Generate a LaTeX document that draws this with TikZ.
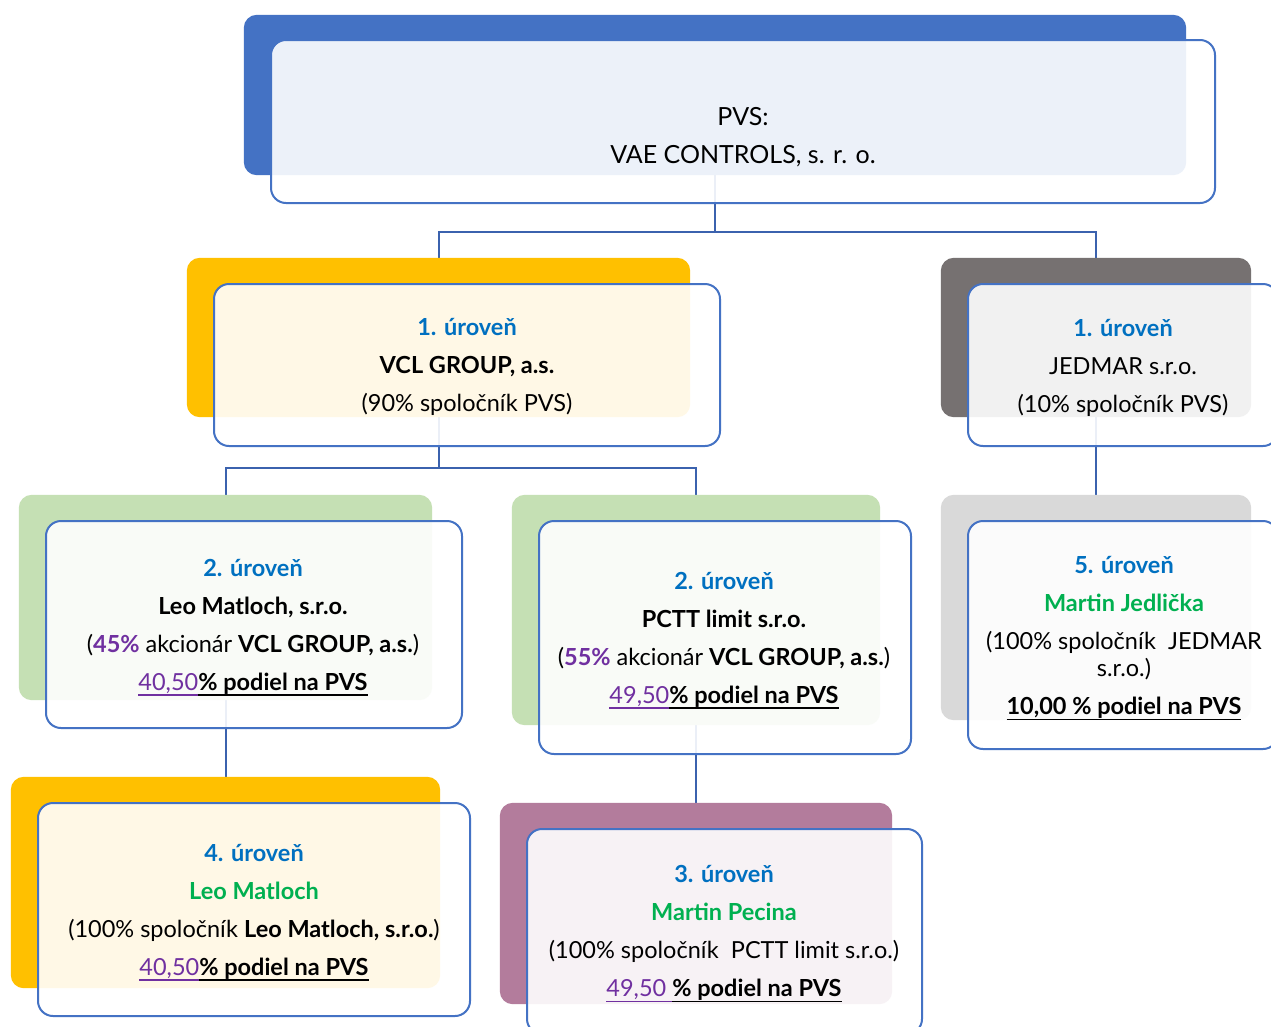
\documentclass[tikz,border=0pt]{standalone}
\usepackage{fontspec}
\setmainfont{Lato}
\definecolor{cblue}{HTML}{4472C4}
\definecolor{cyellow}{HTML}{FFC000}
\definecolor{cdgray}{HTML}{767171}
\definecolor{clgreen}{HTML}{C5E0B4}
\definecolor{clgray}{HTML}{D9D9D9}
\definecolor{cmauve}{HTML}{B37C9C}
\definecolor{cborder}{HTML}{4472C4}
\definecolor{cconn}{HTML}{3B62AE}
\definecolor{clevel}{HTML}{0070C0}
\definecolor{cgreen}{HTML}{00B050}
\definecolor{cpurp}{HTML}{7030A0}
\newsavebox{\myulbox}
\newcommand{\myul}[1]{\leavevmode\sbox{\myulbox}{#1}\rlap{\rule[-5.5pt]{\wd\myulbox}{1.5pt}}\usebox{\myulbox}}
\newcommand{\lvltxt}[1]{\textcolor{clevel}{\bfseries #1}}
\newcommand{\grntxt}[1]{\textcolor{cgreen}{\bfseries #1}}
\newcommand{\purtxt}[1]{\textcolor{cpurp}{\bfseries #1}}
\newcommand{\podiel}[2]{\textcolor{cpurp}{\myul{#1}}{\bfseries\myul{#2}}}
\begin{document}
\begin{tikzpicture}[x=1pt,y=-1pt,
  back/.style={rectangle, rounded corners=13pt, draw=none, inner sep=0pt},
  front/.style={rectangle, rounded corners=15pt, draw=cborder, line width=2pt, fill=white, fill opacity=0.9, draw opacity=1, inner sep=0pt},
  conn/.style={draw=cconn, line width=2pt},
  txt/.style={align=center, font=\fontsize{23.5}{38}\selectfont, inner sep=0pt, text=black}]
\useasboundingbox[fill=white] (0,0) rectangle (1271,1026);

% back boxes (as named nodes)
\path
  node[back, minimum width=942, minimum height=160] (topB) at (715,95) {}
  node[back, minimum width=503, minimum height=159] (vclB) at (438.5,337.5) {}
  node[back, minimum width=310, minimum height=159] (jedB) at (1096,337.5) {}
  node[back, minimum width=413, minimum height=205] (l2aB) at (225.5,597.5) {}
  node[back, minimum width=368, minimum height=230] (l2bB) at (696,610) {}
  node[back, minimum width=310, minimum height=225] (l5B) at (1096,607.5) {}
  node[back, minimum width=429, minimum height=211] (l4B) at (225.5,882.5) {}
  node[back, minimum width=392, minimum height=201] (l3B) at (696,903.5) {};

% connectors
\draw[conn] (topB.south) -- ++(0,57) -| (vclB.north);
\draw[conn] (topB.south) -- ++(0,57) -| (jedB.north);
\draw[conn] (vclB.south) -- ++(0,51) -| (l2aB.north);
\draw[conn] (vclB.south) -- ++(0,51) -| (l2bB.north);
\draw[conn] (jedB.south) -- (l5B.north);
\draw[conn] (l2aB.south) -- (l4B.north);
\draw[conn] (l2bB.south) -- (l3B.north);

% back fills
\fill[cblue, rounded corners=13pt] (topB.south west) rectangle (topB.north east);
\fill[cyellow, rounded corners=13pt] (vclB.south west) rectangle (vclB.north east);
\fill[cdgray, rounded corners=13pt] (jedB.south west) rectangle (jedB.north east);
\fill[clgreen, rounded corners=13pt] (l2aB.south west) rectangle (l2aB.north east);
\fill[clgreen, rounded corners=13pt] (l2bB.south west) rectangle (l2bB.north east);
\fill[clgray, rounded corners=13pt] (l5B.south west) rectangle (l5B.north east);
\fill[cyellow, rounded corners=13pt] (l4B.south west) rectangle (l4B.north east);
\fill[cmauve, rounded corners=13pt] (l3B.south west) rectangle (l3B.north east);

% front boxes
\node[front, minimum width=944, minimum height=163] (topF) at (743,121.5) {};
\node[front, minimum width=506, minimum height=162] (vclF) at (467,365) {};
\node[front, minimum width=310, minimum height=162] (jedF) at (1123,365) {};
\node[front, minimum width=416, minimum height=207] (l2aF) at (254,624.5) {};
\node[front, minimum width=372, minimum height=233] (l2bF) at (725,637.5) {};
\node[front, minimum width=310, minimum height=228] (l5F) at (1123,635) {};
\node[front, minimum width=432, minimum height=213] (l4F) at (254,909.5) {};
\node[front, minimum width=395, minimum height=205] (l3F) at (724.5,931.5) {};

% texts
\node[txt, font=\fontsize{25}{38}\selectfont] (topT) at (743,137.5) {PVS:\\VAE CONTROLS, s. r. o.};
\node[txt] (vclT) at (467,367) {\lvltxt{1. úroveň}\\{\bfseries VCL GROUP, a.s.}\\(90\% spoločník PVS)};
\node[txt] (jedT) at (1123,367.5) {\lvltxt{1. úroveň}\\JEDMAR s.r.o.\\(10\% spoločník PVS)};
\node[txt] (l2aT) at (253,627.5) {\lvltxt{2. úroveň}\\{\bfseries Leo Matloch, s.r.o.}\\(\purtxt{45\%} akcionár {\bfseries VCL GROUP, a.s.})\\\podiel{40,50}{\% podiel na PVS}};
\node[txt] (l2bT) at (724,640.5) {\lvltxt{2. úroveň}\\{\bfseries PCTT limit s.r.o.}\\(\purtxt{55\%} akcionár {\bfseries VCL GROUP, a.s.})\\\podiel{49,50}{\% podiel na PVS}};
\node[txt] (l5T) at (1124,638.5) {\lvltxt{5. úroveň}\\\grntxt{Martin Jedlička}\\(100\% spoločník~~JEDMAR\\[-11pt]s.r.o.)\\{\bfseries\myul{10,00 \% podiel na PVS}}};
\node[txt] (l4T) at (254,912.5) {\lvltxt{4. úroveň}\\\grntxt{Leo Matloch}\\(100\% spoločník {\bfseries Leo Matloch, s.r.o.})\\\podiel{40,50}{\% podiel na PVS}};
\node[txt] (l3T) at (724,934) {\lvltxt{3. úroveň}\\\grntxt{Martin Pecina}\\(100\% spoločník~~PCTT limit s.r.o.)\\\podiel{49,50~}{\% podiel na PVS}};
\end{tikzpicture}
\end{document}
